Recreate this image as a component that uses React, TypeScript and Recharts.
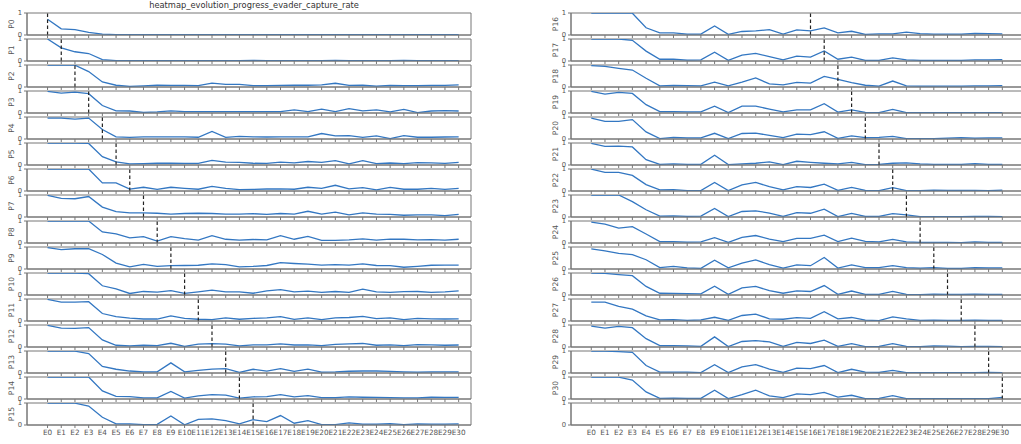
import { LineChart, Line, XAxis, YAxis, ReferenceLine, ReferenceArea } from 'recharts'

// Small multiples: one capture-rate line per pursuer checkpoint (P0..P30),
// evaluated against every evader checkpoint (E0..E30). The dashed line marks
// the evader generation matching the pursuer.

const TITLE = 'heatmap_evolution_progress_evader_capture_rate'

const EPOCHS = [
  'E0', 'E1', 'E2', 'E3', 'E4', 'E5', 'E6', 'E7', 'E8', 'E9', 'E10',
  'E11', 'E12', 'E13', 'E14', 'E15', 'E16', 'E17', 'E18', 'E19', 'E20',
  'E21', 'E22', 'E23', 'E24', 'E25', 'E26', 'E27', 'E28', 'E29', 'E30',
]

const Y_TICKS = [0, 1]

const P0 = [0.72, 0.28, 0.24, 0.12, 0.04, 0.02, 0.02, 0.02, 0.02, 0.02, 0.02, 0.02, 0.02, 0.02, 0.02, 0.02, 0.02, 0.02, 0.02, 0.02, 0.02, 0.02, 0.02, 0.02, 0.02, 0.02, 0.02, 0.02, 0.02, 0.02, 0.02]
const P1 = [1.0, 0.6, 0.42, 0.34, 0.06, 0.02, 0.02, 0.02, 0.02, 0.02, 0.02, 0.02, 0.02, 0.02, 0.02, 0.03, 0.02, 0.02, 0.02, 0.02, 0.02, 0.03, 0.02, 0.02, 0.02, 0.02, 0.03, 0.02, 0.02, 0.02, 0.02]
const P2 = [1.0, 1.0, 0.99, 0.7, 0.23, 0.08, 0.03, 0.05, 0.08, 0.07, 0.07, 0.06, 0.18, 0.12, 0.12, 0.06, 0.06, 0.07, 0.08, 0.08, 0.1, 0.17, 0.07, 0.08, 0.04, 0.07, 0.06, 0.06, 0.07, 0.07, 0.1]
const P3 = [0.98, 0.9, 0.95, 0.88, 0.34, 0.1, 0.09, 0.03, 0.05, 0.1, 0.06, 0.06, 0.06, 0.06, 0.06, 0.06, 0.06, 0.06, 0.14, 0.06, 0.18, 0.06, 0.2, 0.1, 0.14, 0.05, 0.16, 0.02, 0.09, 0.11, 0.09]
const P4 = [0.95, 0.95, 0.9, 0.95, 0.43, 0.1, 0.07, 0.1, 0.1, 0.1, 0.1, 0.08, 0.34, 0.07, 0.12, 0.1, 0.09, 0.1, 0.1, 0.1, 0.25, 0.14, 0.15, 0.07, 0.14, 0.02, 0.15, 0.08, 0.08, 0.09, 0.1]
const P5 = [1.0, 1.0, 1.0, 0.98, 0.38, 0.14, 0.05, 0.06, 0.08, 0.08, 0.07, 0.07, 0.21, 0.13, 0.12, 0.08, 0.07, 0.13, 0.1, 0.16, 0.12, 0.2, 0.05, 0.2, 0.06, 0.09, 0.06, 0.11, 0.1, 0.07, 0.12]
const P6 = [1.0, 1.0, 1.0, 1.0, 0.37, 0.37, 0.09, 0.17, 0.07, 0.17, 0.12, 0.08, 0.21, 0.12, 0.06, 0.07, 0.09, 0.1, 0.08, 0.17, 0.12, 0.26, 0.1, 0.15, 0.05, 0.16, 0.08, 0.08, 0.12, 0.07, 0.12]
const P7 = [0.98, 0.85, 0.83, 0.93, 0.45, 0.24, 0.19, 0.19, 0.17, 0.13, 0.16, 0.17, 0.16, 0.13, 0.13, 0.15, 0.12, 0.16, 0.13, 0.26, 0.13, 0.22, 0.1, 0.19, 0.13, 0.12, 0.08, 0.1, 0.1, 0.06, 0.12]
const P8 = [1.0, 1.0, 1.0, 1.0, 0.5, 0.41, 0.23, 0.29, 0.09, 0.29, 0.2, 0.13, 0.33, 0.17, 0.13, 0.16, 0.14, 0.33, 0.17, 0.3, 0.12, 0.12, 0.14, 0.19, 0.13, 0.18, 0.17, 0.14, 0.15, 0.13, 0.17]
const P9 = [0.97, 0.88, 0.92, 0.92, 0.66, 0.27, 0.1, 0.21, 0.12, 0.15, 0.16, 0.17, 0.23, 0.2, 0.1, 0.12, 0.16, 0.29, 0.25, 0.22, 0.18, 0.2, 0.18, 0.23, 0.16, 0.15, 0.08, 0.12, 0.17, 0.18, 0.18]
const P10 = [1.0, 1.0, 1.0, 0.97, 0.42, 0.28, 0.07, 0.16, 0.13, 0.2, 0.07, 0.14, 0.22, 0.14, 0.14, 0.08, 0.19, 0.24, 0.14, 0.18, 0.12, 0.16, 0.12, 0.27, 0.14, 0.12, 0.15, 0.16, 0.12, 0.14, 0.19]
const P11 = [0.98, 0.86, 0.86, 0.88, 0.34, 0.2, 0.13, 0.09, 0.09, 0.23, 0.12, 0.08, 0.06, 0.14, 0.08, 0.12, 0.14, 0.2, 0.07, 0.14, 0.06, 0.14, 0.16, 0.21, 0.11, 0.14, 0.06, 0.12, 0.1, 0.09, 0.1]
const P12 = [0.98, 0.86, 0.85, 0.88, 0.32, 0.08, 0.05, 0.08, 0.06, 0.17, 0.03, 0.13, 0.15, 0.13, 0.05, 0.1, 0.1, 0.14, 0.09, 0.1, 0.06, 0.12, 0.14, 0.16, 0.08, 0.1, 0.06, 0.11, 0.1, 0.08, 0.09]
const P13 = [1.0, 0.99, 0.99, 0.88, 0.3, 0.17, 0.09, 0.05, 0.05, 0.46, 0.05, 0.12, 0.18, 0.2, 0.03, 0.17, 0.09, 0.2, 0.07, 0.18, 0.04, 0.05, 0.08, 0.09, 0.09, 0.07, 0.05, 0.04, 0.05, 0.05, 0.05]
const P14 = [1.0, 1.0, 1.0, 1.0, 0.37, 0.12, 0.11, 0.05, 0.05, 0.34, 0.04, 0.14, 0.2, 0.18, 0.04, 0.1, 0.11, 0.2, 0.1, 0.15, 0.06, 0.06, 0.1, 0.08, 0.07, 0.06, 0.05, 0.05, 0.08, 0.07, 0.07]
const P15 = [1.0, 1.0, 0.99, 0.86, 0.35, 0.05, 0.05, 0.02, 0.03, 0.41, 0.01, 0.26, 0.28, 0.2, 0.05, 0.24, 0.15, 0.43, 0.08, 0.2, 0.02, 0.02, 0.1, 0.04, 0.04, 0.06, 0.02, 0.05, 0.04, 0.04, 0.05]
const P16 = [1.0, 0.99, 0.99, 0.99, 0.33, 0.1, 0.1, 0.04, 0.04, 0.41, 0.03, 0.16, 0.19, 0.24, 0.04, 0.23, 0.19, 0.32, 0.1, 0.17, 0.03, 0.05, 0.05, 0.13, 0.06, 0.04, 0.04, 0.04, 0.07, 0.06, 0.05]
const P17 = [1.0, 1.0, 1.0, 0.94, 0.45, 0.08, 0.08, 0.04, 0.05, 0.4, 0.03, 0.27, 0.35, 0.2, 0.05, 0.22, 0.18, 0.46, 0.08, 0.18, 0.03, 0.03, 0.14, 0.05, 0.03, 0.03, 0.03, 0.03, 0.05, 0.05, 0.06]
const P18 = [0.97, 0.94, 0.85, 0.77, 0.4, 0.05, 0.07, 0.06, 0.05, 0.22, 0.05, 0.22, 0.41, 0.14, 0.1, 0.21, 0.18, 0.48, 0.35, 0.2, 0.08, 0.04, 0.27, 0.05, 0.04, 0.04, 0.04, 0.04, 0.05, 0.05, 0.06]
const P19 = [0.98, 0.86, 0.94, 0.89, 0.38, 0.06, 0.06, 0.05, 0.05, 0.31, 0.02, 0.31, 0.31, 0.18, 0.05, 0.14, 0.14, 0.42, 0.04, 0.14, 0.03, 0.02, 0.16, 0.02, 0.02, 0.02, 0.02, 0.02, 0.02, 0.02, 0.02]
const P20 = [0.95, 0.8, 0.8, 0.88, 0.32, 0.02, 0.07, 0.05, 0.05, 0.26, 0.02, 0.25, 0.27, 0.16, 0.06, 0.22, 0.2, 0.33, 0.03, 0.14, 0.06, 0.07, 0.12, 0.02, 0.02, 0.02, 0.04, 0.06, 0.04, 0.05, 0.05]
const P21 = [0.98, 0.85, 0.86, 0.82, 0.24, 0.03, 0.05, 0.03, 0.03, 0.44, 0.02, 0.05, 0.08, 0.14, 0.02, 0.17, 0.12, 0.08, 0.05, 0.12, 0.02, 0.03, 0.08, 0.1, 0.05, 0.03, 0.03, 0.03, 0.06, 0.03, 0.03]
const P22 = [0.99, 0.85, 0.85, 0.71, 0.29, 0.05, 0.06, 0.02, 0.02, 0.39, 0.02, 0.28, 0.39, 0.2, 0.05, 0.2, 0.16, 0.31, 0.03, 0.16, 0.03, 0.02, 0.15, 0.02, 0.02, 0.04, 0.03, 0.03, 0.03, 0.02, 0.04]
const P23 = [1.0, 1.0, 1.0, 0.7, 0.33, 0.04, 0.05, 0.03, 0.04, 0.39, 0.02, 0.25, 0.28, 0.18, 0.03, 0.2, 0.17, 0.36, 0.02, 0.16, 0.03, 0.03, 0.15, 0.1, 0.02, 0.02, 0.02, 0.02, 0.03, 0.03, 0.02]
const P24 = [0.95, 0.86, 0.68, 0.74, 0.41, 0.06, 0.06, 0.04, 0.05, 0.24, 0.03, 0.26, 0.34, 0.18, 0.06, 0.21, 0.21, 0.36, 0.06, 0.22, 0.07, 0.05, 0.16, 0.05, 0.03, 0.03, 0.03, 0.02, 0.05, 0.03, 0.03]
const P25 = [0.91, 0.82, 0.71, 0.65, 0.42, 0.06, 0.12, 0.05, 0.03, 0.4, 0.05, 0.27, 0.41, 0.2, 0.04, 0.19, 0.15, 0.52, 0.04, 0.19, 0.06, 0.06, 0.15, 0.06, 0.04, 0.06, 0.03, 0.03, 0.06, 0.05, 0.05]
const P26 = [1.0, 0.98, 0.93, 0.88, 0.39, 0.08, 0.07, 0.06, 0.05, 0.4, 0.03, 0.32, 0.39, 0.2, 0.08, 0.19, 0.16, 0.43, 0.03, 0.18, 0.03, 0.03, 0.16, 0.03, 0.02, 0.04, 0.03, 0.03, 0.04, 0.03, 0.03]
const P27 = [0.86, 0.86, 0.66, 0.54, 0.23, 0.05, 0.06, 0.03, 0.05, 0.17, 0.03, 0.25, 0.31, 0.1, 0.08, 0.15, 0.12, 0.42, 0.1, 0.16, 0.04, 0.02, 0.19, 0.1, 0.03, 0.04, 0.03, 0.03, 0.04, 0.03, 0.03]
const P28 = [0.95, 0.86, 0.94, 0.88, 0.38, 0.06, 0.06, 0.05, 0.03, 0.46, 0.02, 0.25, 0.29, 0.23, 0.03, 0.21, 0.16, 0.31, 0.03, 0.15, 0.02, 0.03, 0.15, 0.03, 0.02, 0.05, 0.04, 0.02, 0.03, 0.03, 0.02]
const P29 = [1.0, 1.0, 0.97, 0.94, 0.34, 0.04, 0.04, 0.04, 0.02, 0.38, 0.02, 0.28, 0.38, 0.18, 0.03, 0.22, 0.2, 0.34, 0.02, 0.17, 0.04, 0.03, 0.12, 0.02, 0.02, 0.02, 0.02, 0.02, 0.02, 0.03, 0.02]
const P30 = [1.0, 0.99, 0.99, 0.86, 0.32, 0.03, 0.04, 0.03, 0.03, 0.4, 0.02, 0.2, 0.4, 0.14, 0.06, 0.23, 0.2, 0.3, 0.09, 0.17, 0.02, 0.03, 0.15, 0.02, 0.02, 0.02, 0.02, 0.02, 0.02, 0.02, 0.07]

const SERIES = [
  P0, P1, P2, P3, P4, P5, P6, P7, P8, P9, P10, P11, P12, P13, P14, P15,
  P16, P17, P18, P19, P20, P21, P22, P23, P24, P25, P26, P27, P28, P29, P30,
]

const BLUE = '#3377c2'
const SPINE = '#777'
const TEXT = '#555'

// half-pixel offsets keep the 1px frame lines crisp
const ROW_TOP = 12.5
const ROW_PITCH = 26
const PLOT_H = 22
const PAD_TOP = 3
const AXIS_W = 27

// right column runs off the figure edge, so it has no visible right spine
const COLS = [
  { left: 26.5, width: 444, domain: [-1.5, 30.9], rightM: 2 },
  { left: 570.5, width: 450.5, domain: [-1.48, 31.4], rightM: 0 },
]

const X_TICKS = EPOCHS.map((_, k) => k)

function Panel({
  index,
  col,
  row,
  last,
}: {
  index: number | null
  col: number
  row: number
  last: boolean
}) {
  const c = COLS[col]
  const values = index === null ? null : SERIES[index]
  const data = EPOCHS.map((e, k) => ({ x: k, label: e, v: values ? values[k] : null }))
  const bottomPad = last ? 16 : 5
  const top = ROW_TOP + row * ROW_PITCH

  return (
    <>
      <div style={{ position: 'absolute', left: c.left - AXIS_W, top: top - PAD_TOP }}>
        <LineChart
          width={AXIS_W + c.width + c.rightM}
          height={PAD_TOP + PLOT_H + bottomPad}
          data={data}
          margin={{ top: PAD_TOP, right: c.rightM, bottom: 0, left: 0 }}
        >
          <XAxis
            dataKey="x"
            type="number"
            domain={c.domain}
            allowDataOverflow
            ticks={X_TICKS}
            interval={0}
            height={bottomPad}
            tickSize={3}
            tickMargin={1.5}
            stroke={SPINE}
            tickLine={{ stroke: SPINE }}
            tickFormatter={(k: number) => EPOCHS[k]}
            tick={last ? { fontSize: 7.3, fill: TEXT } : () => <g />}
          />
          <YAxis
            type="number"
            domain={[0, 1]}
            allowDataOverflow
            ticks={Y_TICKS}
            interval={0}
            width={AXIS_W}
            tickSize={3}
            tickMargin={2}
            axisLine={{ stroke: SPINE }}
            tickLine={{ stroke: SPINE }}
            tick={{ fontSize: 6.8, fill: TEXT }}
          />
          <ReferenceArea
            x1={c.domain[0]}
            x2={c.domain[1]}
            y1={0}
            y2={1}
            ifOverflow="visible"
            fill="none"
            stroke={SPINE}
            strokeWidth={1}
          />
          <Line
            dataKey="v"
            stroke={values ? BLUE : 'none'}
            strokeWidth={1.3}
            dot={false}
            isAnimationActive={false}
          />
          {index !== null && (
            <ReferenceLine x={index} stroke="#222" strokeWidth={1.2} strokeDasharray="3.5 2.5" />
          )}
        </LineChart>
      </div>
      {index !== null && (
        <div
          style={{
            position: 'absolute',
            left: c.left - 15,
            top: top + PLOT_H / 2,
            transform: 'translate(-50%, -50%) rotate(-90deg)',
            fontSize: 7.6,
            lineHeight: '8px',
            color: TEXT,
            whiteSpace: 'nowrap',
          }}
        >
          {`P${index}`}
        </div>
      )}
    </>
  )
}

export default function App() {
  const panels = []
  for (let row = 0; row < 16; row++) {
    panels.push(<Panel key={`l${row}`} index={row} col={0} row={row} last={row === 15} />)
    const idx = row + 16
    panels.push(
      <Panel key={`r${row}`} index={idx <= 30 ? idx : null} col={1} row={row} last={row === 15} />,
    )
  }
  return (
    <div
      style={{
        position: 'absolute',
        left: 0,
        top: 0,
        width: 1021,
        height: 444,
        overflow: 'hidden',
        background: '#fff',
        fontFamily: '"DejaVu Sans", sans-serif',
      }}
    >
      <div
        style={{
          position: 'absolute',
          left: 0,
          top: 0,
          width: 508,
          textAlign: 'center',
          fontSize: 8.3,
          lineHeight: '10px',
          color: '#333',
        }}
      >
        {TITLE}
      </div>
      {panels}
    </div>
  )
}
